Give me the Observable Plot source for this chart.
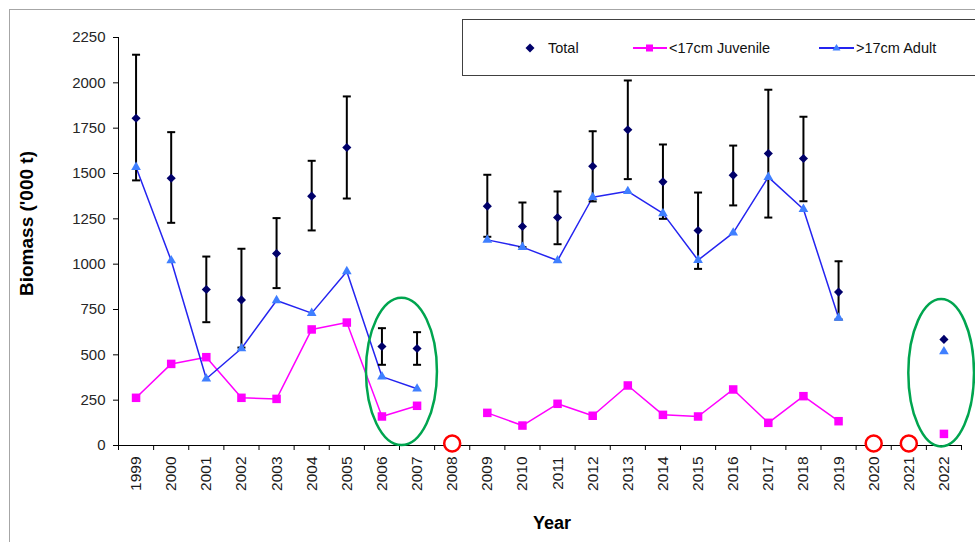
<!DOCTYPE html>
<html>
<head>
<meta charset="utf-8">
<script src="https://cdn.jsdelivr.net/npm/d3@7"></script>
<script src="https://cdn.jsdelivr.net/npm/@observablehq/plot@0.6"></script>
<style>
  html, body { margin: 0; padding: 0; background: #fff; overflow: hidden; }
  #wrap { position: relative; width: 975px; height: 542px; overflow: hidden; font-family: "Liberation Sans", Arial, sans-serif; }
  #wrap svg.plot { position: absolute; left: 0; top: 0; }
  .outer { position: absolute; left: 9px; top: 9px; width: 1000px; height: 600px; border-left: 1.5px solid #a6a6a6; border-top: 1.5px solid #a6a6a6; }
  .legend { position: absolute; left: 462px; top: 19px; width: 600px; height: 55px; border: 1.5px solid #404040; background: #fff; }
  .li { position: absolute; top: 0; height: 55px; display: flex; align-items: center; font-size: 14.5px; color: #111; }
  .li svg { display: block; margin-right: 2px; }
</style>
</head>
<body>
<div id="wrap">
  <div class="outer"></div>
</div>
<script>
const years = [1999,2000,2001,2002,2003,2004,2005,2006,2007,2008,2009,2010,2011,2012,2013,2014,2015,2016,2017,2018,2019,2020,2021,2022];
const totalValues =    [1805,1474, 860, 803,1059,1375,1643, 546, 535,null,1320,1208,1257,1540,1741,1454,1186,1491,1610,1583, 846,null,null, 585];
const totalLow =       [1462,1228, 680, 540, 868,1186,1362, 445, 445,null,1151,1094,1110,1346,1469,1250, 974,1324,1257,1347, 695,null,null,null];
const totalHigh =      [2155,1728,1042,1085,1254,1570,1925, 647, 625,null,1493,1340,1401,1733,2013,1660,1395,1654,1962,1813,1016,null,null,null];
const adultValues =    [1535,1020, 368, 535, 800, 730, 960, 380, 313,null,1134,1094,1020,1369,1402,1280,1022,1173,1480,1303, 704,null,null, 518];
const juvenileValues = [ 263, 450, 487, 263, 257, 640, 678, 160, 219,null, 180, 110, 230, 164, 331, 169, 160, 309, 125, 272, 134,null,null,  64];
const missingYears = [2008, 2020, 2021];
const yTicks = [0,250,500,750,1000,1250,1500,1750,2000,2250];
const highlights = [
  {x1: 2005.56, x2: 2007.58, y1: 0, y2: 812},
  {x1: 2021.0, x2: 2022.87, y1: -8, y2: 805}
];
const seriesNames = ["Total", "<17cm Juvenile", ">17cm Adult"];

const rows = years.map((year, i) => ({
  year,
  total: totalValues[i],
  lo: totalLow[i],
  hi: totalHigh[i],
  adult: adultValues[i],
  juvenile: juvenileValues[i]
}));
const withBars = rows.filter(d => d.lo != null);
const boundaries = years.map(y => y - 0.5).concat([years[years.length - 1] + 0.5]);

const capSymbol = {
  draw(context, size) {
    const w = Math.sqrt(size);
    context.moveTo(-w, 0);
    context.lineTo(w, 0);
  }
};

const ellipseMark = (index, scales) => {
  const g = d3.create("svg:g");
  for (const h of highlights) {
    const xa = scales.x(h.x1), xb = scales.x(h.x2);
    const ya = scales.y(h.y1), yb = scales.y(h.y2);
    g.append("ellipse")
      .attr("cx", (xa + xb) / 2)
      .attr("cy", (ya + yb) / 2)
      .attr("rx", Math.abs(xb - xa) / 2)
      .attr("ry", Math.abs(ya - yb) / 2)
      .attr("fill", "none")
      .attr("stroke", "#00a54f")
      .attr("stroke-width", 2.5);
  }
  return g.node();
};

const chart = Plot.plot({
  width: 975,
  height: 542,
  marginLeft: 118,
  marginRight: 14,
  marginTop: 37,
  marginBottom: 97,
  style: { fontFamily: "'Liberation Sans', Arial, sans-serif", background: "transparent", overflow: "visible" },
  x: { type: "linear", domain: [1998.5, 2022.5] },
  y: { domain: [0, 2250] },
  marks: [
    Plot.axisY({ ticks: yTicks, tickSize: 5, tickPadding: 8, tickFormat: d3.format("d"), fontSize: 15, color: "#262626", stroke: "#000", label: null }),
    Plot.axisX({ ticks: years, tickSize: 0, tickPadding: 11, tickRotate: -90, tickFormat: d3.format("d"), fontSize: 15.5, color: "#1a1a1a", label: null }),
    Plot.axisX({ ticks: boundaries, tickSize: 5, tickFormat: () => "", stroke: "#000", label: null }),
    Plot.frame({ anchor: "left", stroke: "#000" }),
    Plot.ruleY([0], { stroke: "#000" }),
    Plot.text(["Biomass ('000 t)"], { frameAnchor: "left", textAnchor: "middle", lineAnchor: "middle", dx: -92, dy: -18, rotate: -90, fontSize: 19, fontWeight: "bold", fill: "#000" }),
    Plot.text(["Year"], { frameAnchor: "bottom", textAnchor: "middle", lineAnchor: "middle", dx: 12, dy: 78, fontSize: 18, fontWeight: "bold", fill: "#000" }),
    Plot.line(rows, { x: "year", y: "juvenile", stroke: "#ff00ff", strokeWidth: 1.5 }),
    Plot.line(rows, { x: "year", y: "adult", stroke: "#2424f0", strokeWidth: 1.5 }),
    Plot.ruleX(withBars, { x: "year", y1: "lo", y2: "hi", stroke: "#000", strokeWidth: 2 }),
    Plot.dot(withBars, { x: "year", y: "lo", symbol: capSymbol, r: 2.26, stroke: "#000", strokeWidth: 2, fill: "none" }),
    Plot.dot(withBars, { x: "year", y: "hi", symbol: capSymbol, r: 2.26, stroke: "#000", strokeWidth: 2, fill: "none" }),
    Plot.dot(rows.filter(d => d.juvenile != null), { x: "year", y: "juvenile", symbol: "square", r: 4.8, fill: "#ff00ff", stroke: "none" }),
    Plot.dot(rows.filter(d => d.adult != null), { x: "year", y: "adult", symbol: "triangle", r: 3.6, fill: "#3f7fff", stroke: "none" }),
    Plot.dot(rows.filter(d => d.total != null), { x: "year", y: "total", symbol: "diamond2", r: 4.1, fill: "#00006a", stroke: "none" }),
    ellipseMark,
    Plot.dot(missingYears, { x: d => d, y: 0, dy: -2, r: 8, fill: "#fff", stroke: "#ff0000", strokeWidth: 2.5 })
  ]
});
chart.classList.add("plot");
const wrap = document.getElementById("wrap");
wrap.appendChild(chart);

// legend
const legend = document.createElement("div");
legend.className = "legend";
legend.innerHTML = `
  <div class="li" style="left:60px"><svg width="14" height="14"><path d="M7,2.5L11.5,7L7,11.5L2.5,7Z" fill="#00006a"/></svg><span style="margin-left:9px">${seriesNames[0]}</span></div>
  <div class="li" style="left:170px"><svg width="34" height="14"><line x1="0" y1="7" x2="34" y2="7" stroke="#ff00ff" stroke-width="1.8"/><rect x="13" y="3.5" width="7" height="7" fill="#ff00ff"/></svg><span>${seriesNames[1]}</span></div>
  <div class="li" style="left:356px"><svg width="35" height="14"><line x1="0" y1="7" x2="35" y2="7" stroke="#2424f0" stroke-width="1.8"/><path d="M17.5,3L21.5,9.5L13.5,9.5Z" fill="#3f7fff"/></svg><span>${seriesNames[2]}</span></div>
`;
wrap.appendChild(legend);
</script>
</body>
</html>
